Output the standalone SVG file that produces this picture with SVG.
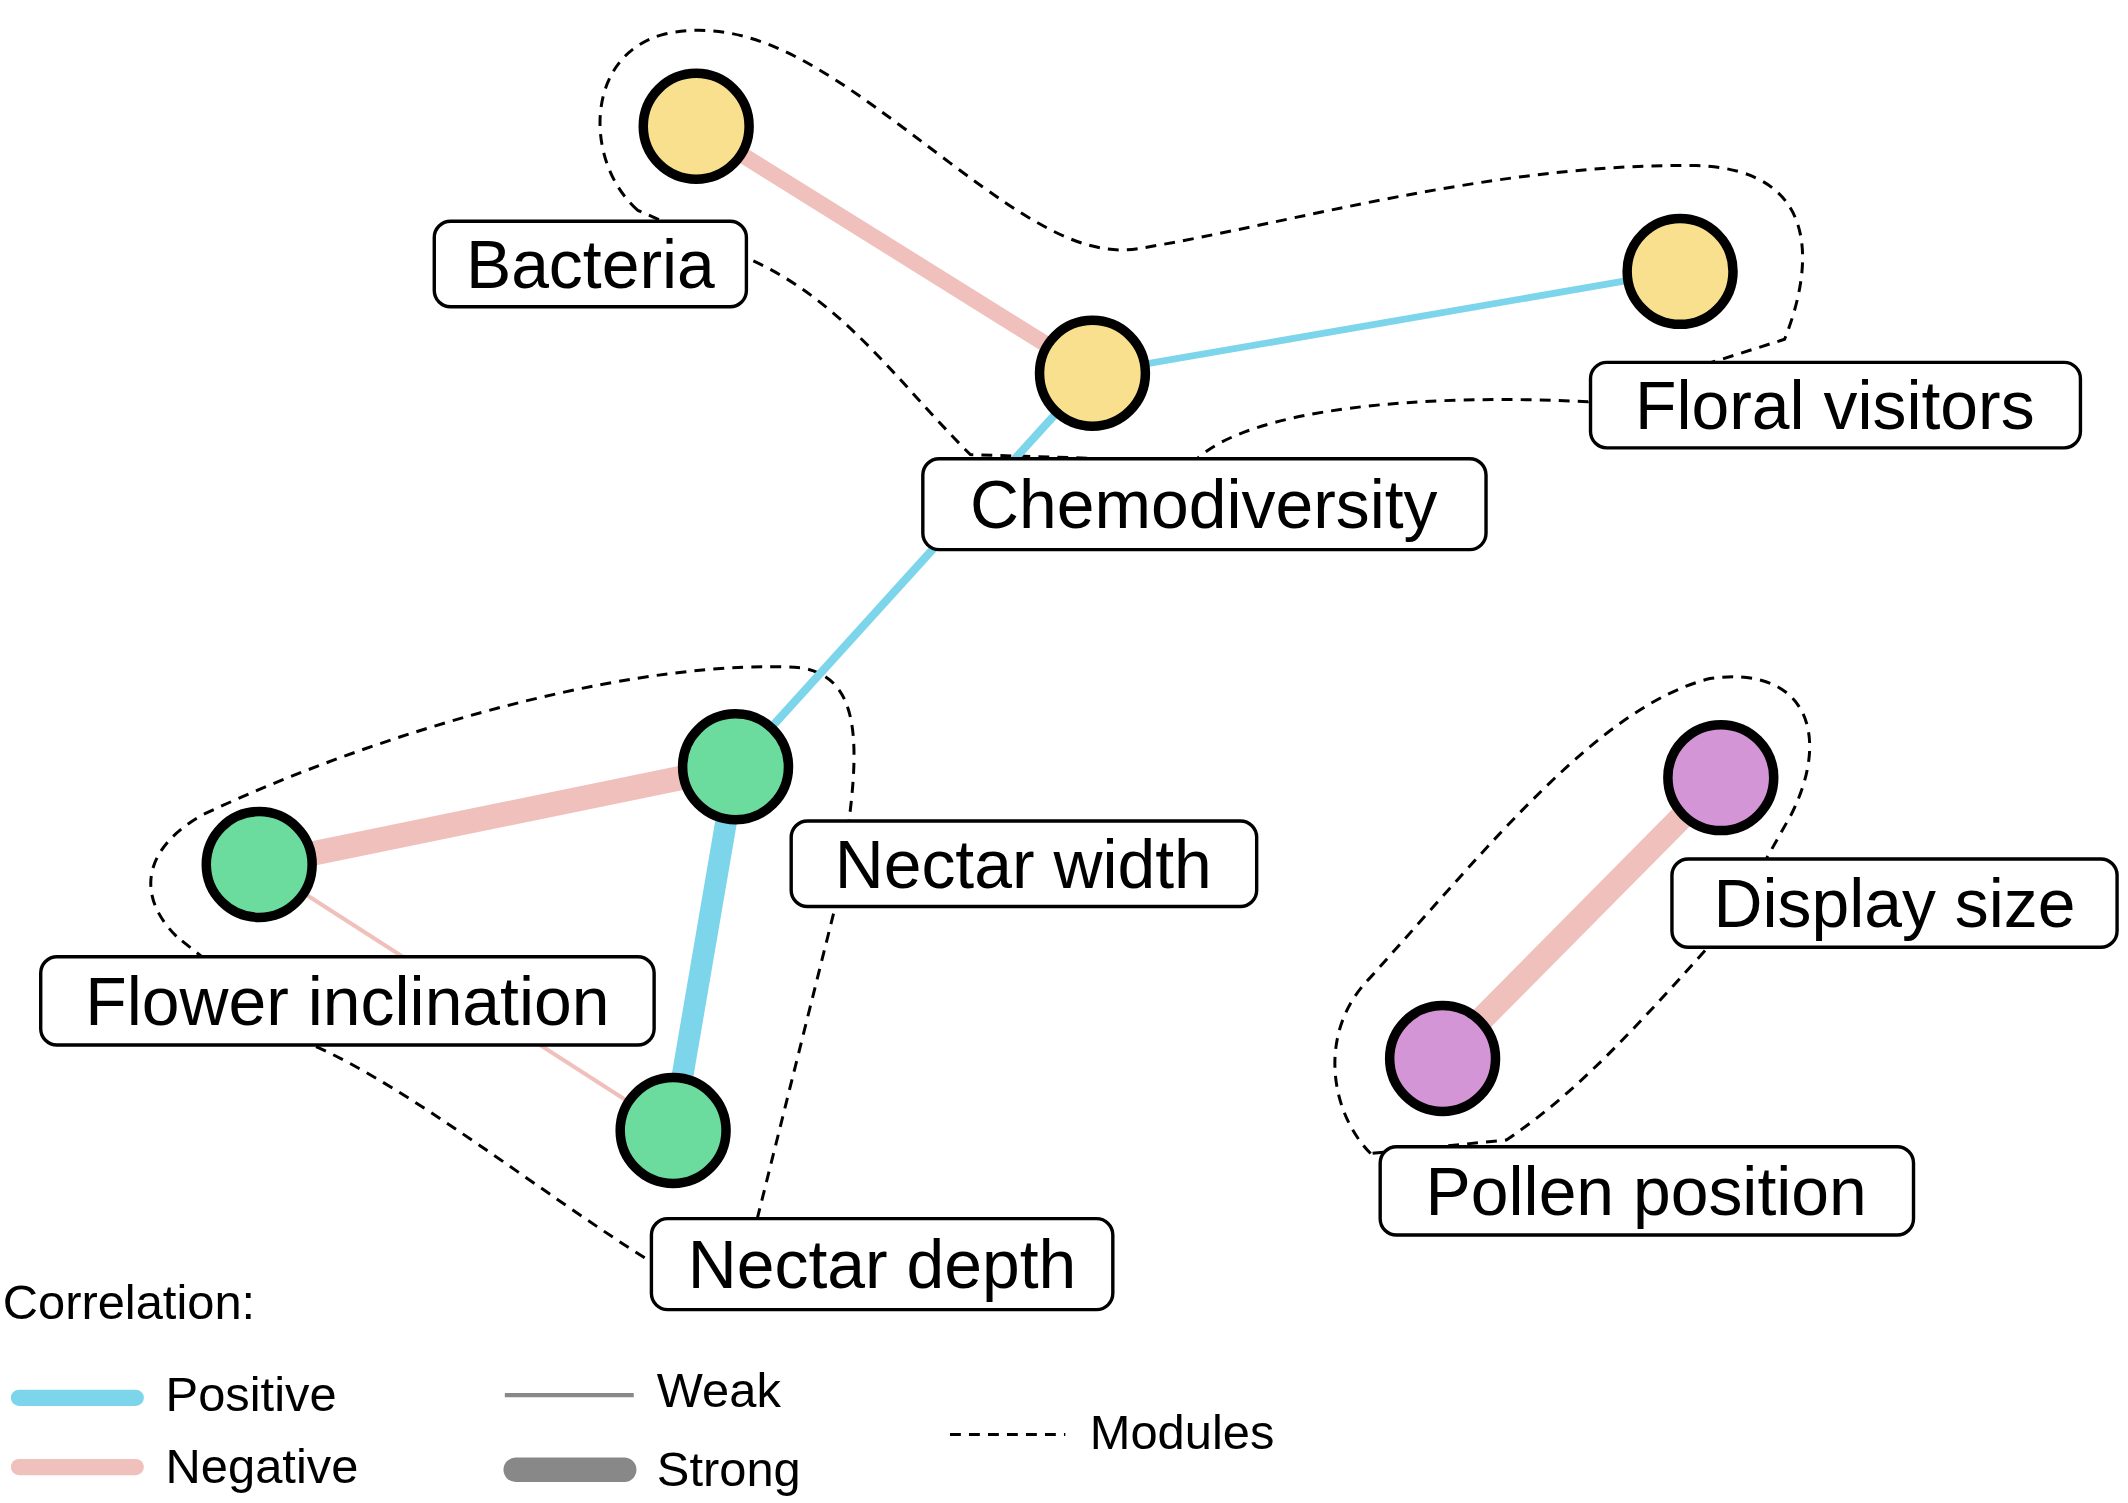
<svg xmlns="http://www.w3.org/2000/svg" width="2128" height="1503" viewBox="0 0 2128 1503">
<style>
.mod{fill:none;stroke:#000;stroke-width:2.2;stroke-dasharray:8 6}
.node{stroke:#000;stroke-width:7}
.lab rect{fill:#fff;stroke:#000;stroke-width:2.5}
.lab text,.leg text{font-family:"Liberation Sans",Arial,sans-serif;fill:#000}
.lab text{font-size:50px}
.leg text{font-size:36px}
</style>
<rect width="2128" height="1503" fill="#fff"/>
<g transform="scale(1.3571)">
<g id="modules">
<path class="mod" d="M470,155 C430,120 430,40 490,25 C560,10 620,60 700,120 C760,165 800,190 840,183 C950,165 1100,120 1250,122 C1345,125 1335,200 1315,250 L1170,296 C1050,290 920,300 880,340 L715,335 C660,280 620,220 550,190 Z"/>
<path class="mod" d="M130,690 C100,660 105,625 150,600 C300,530 480,485 590,492 C640,500 635,560 615,670 L558,898 L480,930 C400,880 300,800 230,770 Z"/>
<path class="mod" d="M1010,850 C980,820 970,760 1010,720 C1100,620 1180,520 1260,500 C1330,490 1350,540 1320,600 L1275,680 C1220,740 1170,800 1110,840 Z"/>
</g>
<g id="connectors" stroke-linecap="butt">
<line x1="513" y1="93" x2="805" y2="275" stroke="#F0C0BC" stroke-width="12"/>
<line x1="805" y1="275" x2="1238" y2="200" stroke="#7CD5EA" stroke-width="5"/>
<line x1="805" y1="275" x2="542" y2="565" stroke="#7CD5EA" stroke-width="6"/>
<line x1="191" y1="637" x2="542" y2="565" stroke="#F0C0BC" stroke-width="18"/>
<line x1="542" y1="565" x2="496" y2="833" stroke="#7CD5EA" stroke-width="16"/>
<line x1="191" y1="637" x2="496" y2="833" stroke="#F0C0BC" stroke-width="3"/>
<line x1="1268" y1="573" x2="1063" y2="780" stroke="#F0C0BC" stroke-width="18"/>
</g>
<g id="n-bacteria"><circle class="node" cx="513" cy="93" r="39" fill="#F8E08E"/><g class="lab"><rect x="320" y="163" width="230" height="63" rx="12"/><text x="435" y="212" text-anchor="middle">Bacteria</text></g></g>
<g id="n-chemo"><circle class="node" cx="805" cy="275" r="39" fill="#F8E08E"/><g class="lab"><rect x="680" y="338" width="415" height="67" rx="12"/><text x="887" y="389" text-anchor="middle">Chemodiversity</text></g></g>
<g id="n-floral"><circle class="node" cx="1238" cy="200" r="39" fill="#F8E08E"/><g class="lab"><rect x="1172" y="267" width="361" height="63" rx="12"/><text x="1352" y="316" text-anchor="middle">Floral visitors</text></g></g>
<g id="n-nwidth"><circle class="node" cx="542" cy="565" r="39" fill="#6CDB9E"/><g class="lab"><rect x="583" y="605" width="343" height="63" rx="12"/><text x="754" y="654" text-anchor="middle">Nectar width</text></g></g>
<g id="n-incl"><circle class="node" cx="191" cy="637" r="39" fill="#6CDB9E"/><g class="lab"><rect x="30" y="705" width="452" height="65" rx="12"/><text x="256" y="755" text-anchor="middle">Flower inclination</text></g></g>
<g id="n-ndepth"><circle class="node" cx="496" cy="833" r="39" fill="#6CDB9E"/><g class="lab"><rect x="480" y="898" width="340" height="67" rx="12"/><text x="650" y="949" text-anchor="middle">Nectar depth</text></g></g>
<g id="n-display"><circle class="node" cx="1268" cy="573" r="39" fill="#D495D6"/><g class="lab"><rect x="1232" y="633" width="328" height="65" rx="12"/><text x="1396" y="683" text-anchor="middle">Display size</text></g></g>
<g id="n-pollen"><circle class="node" cx="1063" cy="780" r="39" fill="#D495D6"/><g class="lab"><rect x="1017" y="845" width="393" height="65" rx="12"/><text x="1213" y="895" text-anchor="middle">Pollen position</text></g></g>
<g id="legend" class="leg">
<text x="2" y="972">Correlation:</text>
<line x1="14" y1="1030" x2="100" y2="1030" stroke="#7CD5EA" stroke-width="12" stroke-linecap="round"/>
<text x="122" y="1040">Positive</text>
<line x1="14" y1="1081" x2="100" y2="1081" stroke="#F0C0BC" stroke-width="12" stroke-linecap="round"/>
<text x="122" y="1093">Negative</text>
<line x1="372" y1="1028" x2="467" y2="1028" stroke="#888" stroke-width="3"/>
<text x="484" y="1037">Weak</text>
<line x1="380" y1="1083" x2="460" y2="1083" stroke="#888" stroke-width="18" stroke-linecap="round"/>
<text x="484" y="1095">Strong</text>
<line x1="700" y1="1057" x2="785" y2="1057" class="mod"/>
<text x="803" y="1068">Modules</text>
</g>
</g>
</svg>
